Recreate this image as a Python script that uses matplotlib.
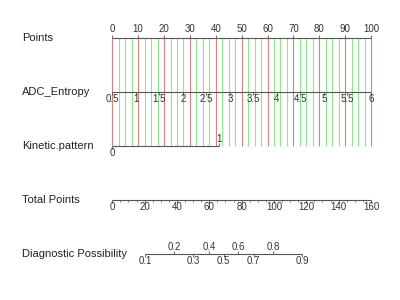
import numpy as np
import matplotlib
matplotlib.use('Agg')
import matplotlib.pyplot as plt
import matplotlib.transforms as mtransforms

plt.rcParams['font.family'] = ['Liberation Sans', 'DejaVu Sans']
plt.rcParams['lines.solid_capstyle'] = 'butt'

# rows of the nomogram
row_names = ['Points', 'ADC_Entropy', 'Kinetic.pattern', 'Total Points', 'Diagnostic Possibility']

# points scale
points_ticks = list(range(0, 101, 10))

# ADC_Entropy scale (0.5 -> 0 points, 6 -> 100 points)
adc_values = [0.5, 1, 1.5, 2, 2.5, 3, 3.5, 4, 4.5, 5, 5.5, 6]
adc_labels = ['0.5', '1', '1.5', '2', '2.5', '3', '3.5', '4', '4.5', '5', '5.5', '6']
adc_min, adc_max = 0.5, 6.0

# Kinetic.pattern
kin_values = ['0', '1']
kin_points = [0, 41.3]

# total points scale
total_ticks = list(range(0, 161, 20))
total_max = 160

# diagnostic possibility, positions read on total points scale
prob_labels = ['0.1', '0.2', '0.3', '0.4', '0.5', '0.6', '0.7', '0.8', '0.9']
prob_total = [20.2, 38.2, 50.1, 59.8, 68.8, 77.8, 87.5, 99.4, 117.3]

fig = plt.figure(figsize=(4, 3), dpi=100)
ax = fig.add_axes([112.3 / 400, 46 / 300, 258.7 / 400, 216 / 300])
ax.set_xlim(0, 100)
ax.set_ylim(4, 0)
ax.axis('off')

fs = 7
lc = '#555555'
tc = '#333333'
tk = 0.06

# grid lines
grid = np.arange(0, 100.01, 2.5)
for g in grid:
    col = '#d98080' if g % 10 == 0 else '#8ee88e'
    ax.plot([g, g], [0, 2], color=col, lw=0.8, zorder=1, clip_on=False)

# Points
ax.plot([0, 100], [0, 0], color=lc, lw=0.8, zorder=2, clip_on=False)
for p in points_ticks:
    ax.plot([p, p], [0, -tk], color=lc, lw=0.6, clip_on=False)
    ax.text(p, -0.07, str(p), ha='center', va='bottom', fontsize=fs, color=tc)

# ADC_Entropy
ax.plot([0, 100], [1, 1], color=lc, lw=0.8, zorder=2, clip_on=False)
for v, lab in zip(adc_values, adc_labels):
    x = (v - adc_min) / (adc_max - adc_min) * 100
    ax.plot([x, x], [1, 1 + tk], color=lc, lw=0.6, clip_on=False)
    ax.text(x, 1.04, lab, ha='center', va='top', fontsize=fs, color=tc)

# Kinetic.pattern
ax.plot([kin_points[0], kin_points[1]], [2, 2], color=lc, lw=0.8, zorder=2, clip_on=False)
ax.plot([kin_points[0], kin_points[0]], [2, 2 + tk], color=lc, lw=0.6, clip_on=False)
ax.text(kin_points[0], 2.04, kin_values[0], ha='center', va='top', fontsize=fs, color=tc)
ax.plot([kin_points[1], kin_points[1]], [2, 2 - tk], color=lc, lw=0.6, clip_on=False)
ax.text(kin_points[1], 1.96, kin_values[1], ha='center', va='bottom', fontsize=fs, color=tc)

# Total Points
sc = 100 / total_max
ax.plot([0, 100], [3, 3], color=lc, lw=0.8, clip_on=False)
for t in range(0, total_max + 1, 5):
    ax.plot([t * sc, t * sc], [3, 3 + tk * 0.5], color=lc, lw=0.5, clip_on=False)
for t in total_ticks:
    ax.plot([t * sc, t * sc], [3, 3 + tk], color=lc, lw=0.6, clip_on=False)
    ax.text(t * sc, 3.04, str(t), ha='center', va='top', fontsize=fs, color=tc)

# Diagnostic Possibility
ax.plot([prob_total[0] * sc, prob_total[-1] * sc], [4, 4], color=lc, lw=0.8, clip_on=False)
for i, (lab, t) in enumerate(zip(prob_labels, prob_total)):
    x = t * sc
    if i % 2 == 0:
        ax.plot([x, x], [4, 4 + tk], color=lc, lw=0.6, clip_on=False)
        ax.text(x, 4.04, lab, ha='center', va='top', fontsize=fs, color=tc)
    else:
        ax.plot([x, x], [4, 4 - tk], color=lc, lw=0.6, clip_on=False)
        ax.text(x, 3.96, lab, ha='center', va='bottom', fontsize=fs, color=tc)

# row labels
trans = mtransforms.blended_transform_factory(fig.transFigure, ax.transData)
for i, name in enumerate(row_names):
    fig.text(22 / 400, i, name, transform=trans, ha='left', va='center', fontsize=8, color='#222222')

fig.savefig('out.png', dpi=100)
